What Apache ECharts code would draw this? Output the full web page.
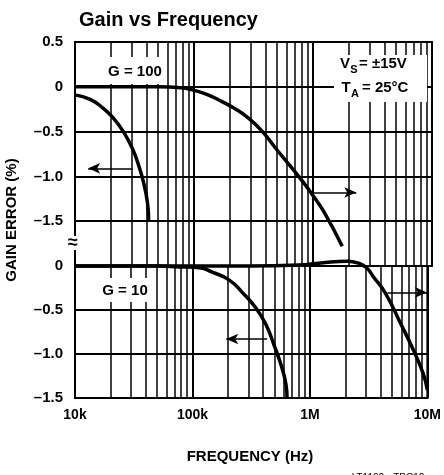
<!DOCTYPE html>
<html lang="en">
<head>
<meta charset="UTF-8">
<title>Gain vs Frequency</title>
<script src="https://cdn.jsdelivr.net/npm/echarts@6/dist/echarts.min.js"></script>
<style>
  body { margin: 0; background: #fff; }
  #main { width: 444px; height: 475px; }
</style>
</head>
<body>
<div id="main"></div>
<script>
// x axis: decade labels and the 2..9 lines of the log paper
var decadeLabels = { 10000: '10k', 100000: '100k', 1000000: '1M', 10000000: '10M' };
var minorFreqs = [20000, 30000, 40000, 50000, 60000, 70000, 80000, 90000,
                  200000, 300000, 400000, 500000, 600000, 700000, 800000, 900000,
                  2000000, 3000000, 4000000, 5000000, 6000000, 7000000, 8000000, 9000000];

// G = 100 (upper section), [Hz, gain error %]
var g100Left = [[10000, -0.09], [13400, -0.14], [17300, -0.24], [21000, -0.35], [25500, -0.50],
                [30400, -0.69], [34200, -0.875], [37700, -1.07], [40700, -1.30], [41600, -1.50]];
var g100Right = [[10000, 0], [50000, 0], [77600, -0.01], [100000, -0.04], [131000, -0.09],
                 [169000, -0.16], [218000, -0.24], [287000, -0.35], [370000, -0.49], [495000, -0.70],
                 [791000, -1.03], [1020000, -1.23], [1240000, -1.40], [1760000, -1.78]];

// G = 10 (lower section)
var g10Left = [[10000, 0], [50000, 0], [77600, -0.01], [114600, -0.02], [147500, -0.07],
               [206000, -0.16], [265000, -0.30], [348000, -0.48], [424000, -0.67], [495000, -0.90],
               [568000, -1.125], [626000, -1.35], [639000, -1.50]];
var g10Right = [[10000, 0], [304000, 0], [807000, 0.01], [1240000, 0.035], [2100000, 0.055],
                [2550000, 0.035], [3040000, -0.02], [3480000, -0.125], [4400000, -0.31],
                [5900000, -0.65], [7600000, -0.955], [9200000, -1.22], [10000000, -1.41]];

var FONT = 'Liberation Sans, Arial, sans-serif';

var chart = echarts.init(document.getElementById('main'));

function yFmt(v) {
  if (v < -1.9) return '';
  if (v === 0) return '0';
  return v.toFixed(1).replace('-', '–');
}

function xAxisCfg(gridIndex, showLabels) {
  return {
    type: 'log', logBase: 10, min: 10000, max: 10000000, gridIndex: gridIndex,
    axisLine: { show: true, lineStyle: { color: '#000', width: 2 } },
    axisTick: { show: false },
    axisLabel: {
      show: showLabels, color: '#000', fontFamily: FONT, fontWeight: 'bold', fontSize: 14, margin: 10,
      formatter: function (v) { return decadeLabels[Math.round(v)] || ''; }
    },
    splitLine: { show: true, lineStyle: { color: '#000', width: 2 } }
  };
}

function yAxisCfg(gridIndex, min) {
  return {
    type: 'value', gridIndex: gridIndex, min: min, max: gridIndex === 0 ? 0.5 : 0, interval: 0.5,
    axisLine: { show: true, lineStyle: { color: '#000', width: 2 } },
    axisTick: { show: false },
    axisLabel: { color: '#000', fontFamily: FONT, fontWeight: 'bold', fontSize: 15, margin: 12, formatter: yFmt },
    splitLine: { show: true, lineStyle: { color: '#000', width: 2 } }
  };
}

var minorLines = minorFreqs.map(function (f) { return { xAxis: f }; });

function arrow(x1, x2, y) {
  return [
    { coord: [x1, y], symbol: 'none' },
    { coord: [x2, y], symbol: 'arrow', symbolSize: [8, 12] }
  ];
}

function curve(name, data, gridIndex, marks) {
  var s = {
    name: name, type: 'line', data: data, xAxisIndex: gridIndex, yAxisIndex: gridIndex,
    smooth: 0.5, showSymbol: false, silent: true, clip: false,
    lineStyle: { color: '#000', width: 3.5 }
  };
  if (marks) {
    s.markLine = {
      silent: true, symbol: 'none', label: { show: false },
      lineStyle: { color: '#000', width: 1.5, type: 'solid' },
      data: marks
    };
  }
  return s;
}

var txt = function (x, y, text, extra) {
  var style = { text: text, font: 'bold 15px ' + FONT, fill: '#000', align: 'center', verticalAlign: 'middle' };
  for (var k in extra) style[k] = extra[k];
  return { type: 'text', x: x, y: y, z: 110, style: style };
};
var box = function (x, y, w, h) {
  return { type: 'rect', z: 100, shape: { x: x, y: y, width: w, height: h }, style: { fill: '#fff' } };
};

chart.setOption({
  animation: false,
  backgroundColor: '#fff',
  title: {
    text: 'Gain vs Frequency', left: 74, top: 5,
    textStyle: { fontFamily: FONT, fontWeight: 'bold', fontSize: 20, color: '#000' }
  },
  grid: [
    { left: 75, top: 42, width: 357, height: 224, show: true, borderColor: '#000', borderWidth: 2 },
    { left: 75, top: 266, width: 357, height: 132, show: true, borderColor: '#000', borderWidth: 2 }
  ],
  xAxis: [xAxisCfg(0, false), xAxisCfg(1, true)],
  yAxis: [yAxisCfg(0, -2), yAxisCfg(1, -1.5)],
  series: [
    curve('G100 left', g100Left, 0, minorLines.concat([arrow(30400, 12900, -0.91)])),
    curve('G100 right', g100Right, 0, [arrow(1020000, 2310000, -1.18)]),
    curve('G10 left', g10Left, 1, minorLines.concat([arrow(432000, 194000, -0.83)])),
    curve('G10 right', g10Right, 1, [arrow(4580000, 9900000, -0.30)])
  ],
  graphic: [
    // label boxes cut the grid lines, as on the datasheet
    box(103, 57, 64, 27),
    txt(135, 72, 'G = 100'),
    box(98, 278, 56, 24),
    txt(125, 291, 'G = 10'),
    box(334, 55, 93, 47),
    txt(345, 64, 'V'),
    txt(354, 70, 'S', { font: 'bold 11px ' + FONT }),
    txt(359, 64, '= ±15V', { align: 'left' }),
    txt(346, 88, 'T'),
    txt(355, 94, 'A', { font: 'bold 11px ' + FONT }),
    txt(362, 88, '= 25°C', { align: 'left' }),
    // axis break
    box(67, 236, 12, 14),
    txt(73, 243, '≈', { font: 'bold 18px ' + FONT }),
    // axis names
    { type: 'text', x: 12, y: 220, rotation: Math.PI / 2, z: 110,
      style: { text: 'GAIN ERROR (%)', font: 'bold 15px ' + FONT, fill: '#000', align: 'center', verticalAlign: 'middle' } },
    txt(250, 457, 'FREQUENCY (Hz)'),
    txt(388, 478, 'LT1102 • TPC12', { font: '10px ' + FONT })
  ]
});
</script>
</body>
</html>
